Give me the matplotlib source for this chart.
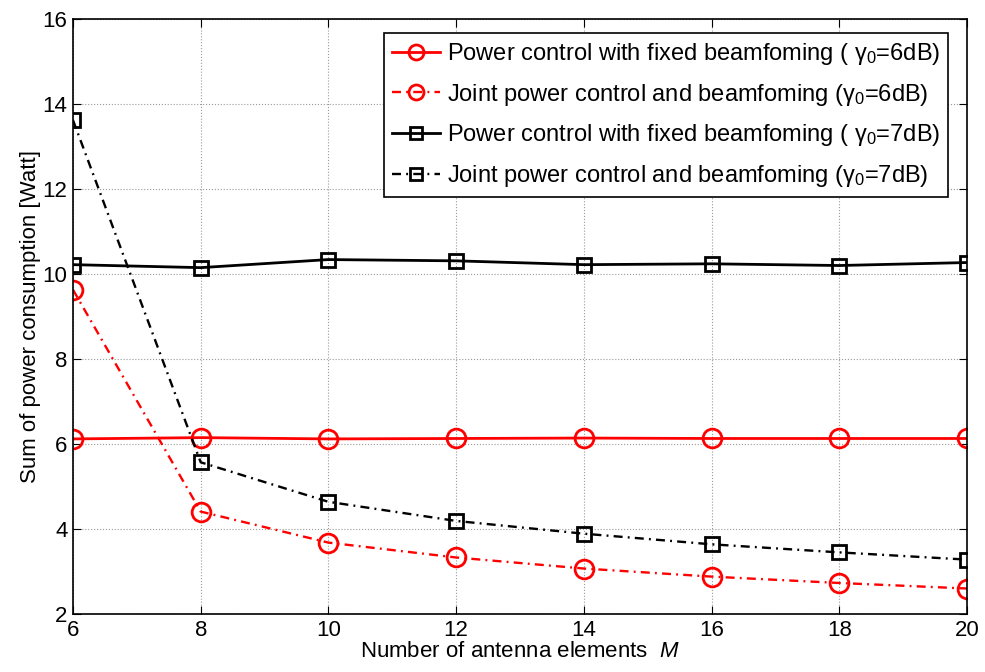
import matplotlib
matplotlib.use("Agg")
import matplotlib.pyplot as plt

plt.rcParams['font.family'] = ['Liberation Sans', 'DejaVu Sans']
plt.rcParams['mathtext.fontset'] = 'custom'
plt.rcParams['mathtext.rm'] = 'Liberation Sans'
plt.rcParams['mathtext.it'] = 'Liberation Sans:italic'

M = [6, 8, 10, 12, 14, 16, 18, 20]
fixed_6dB = [6.12, 6.15, 6.12, 6.13, 6.14, 6.13, 6.13, 6.13]
joint_6dB = [9.63, 4.41, 3.68, 3.33, 3.07, 2.88, 2.73, 2.60]
fixed_7dB = [10.22, 10.15, 10.34, 10.31, 10.22, 10.24, 10.20, 10.27]
joint_7dB = [13.62, 5.57, 4.64, 4.19, 3.89, 3.64, 3.45, 3.28]

labels = [
    r'Power control with fixed beamfoming ( $\mathregular{\gamma_0}$=6dB)',
    r'Joint power control and beamfoming ($\mathregular{\gamma_0}$=6dB)',
    r'Power control with fixed beamfoming ( $\mathregular{\gamma_0}$=7dB)',
    r'Joint power control and beamfoming ($\mathregular{\gamma_0}$=7dB)',
]

fig = plt.figure(figsize=(9.85, 6.72), dpi=100)
ax = fig.add_axes([0.0741, 0.0863, 0.9076, 0.8854])

dd = (3.8, 2.2, 0.8, 2.2)
ax.plot(M, fixed_6dB, '-', color='red', lw=2, marker='o', ms=13.5, mfc='none', mew=2, label=labels[0])
ax.plot(M, joint_6dB, color='red', lw=1.7, dashes=dd, marker='o', ms=13.5, mfc='none', mew=2, label=labels[1])
ax.plot(M, fixed_7dB, '-', color='black', lw=2, marker='s', ms=10.5, mfc='none', mew=2, label=labels[2])
ax.plot(M, joint_7dB, color='black', lw=1.7, dashes=dd, marker='s', ms=10.5, mfc='none', mew=2, label=labels[3])

ax.set_xlim(6, 20)
ax.set_ylim(2, 16)
ax.set_xticks(M)
ax.set_yticks([2, 4, 6, 8, 10, 12, 14, 16])
ax.grid(True, linestyle=':', color='#999999', lw=0.8)
ax.tick_params(direction='in', top=True, right=True, labelsize=16, length=6, pad=4)
for s in ax.spines.values():
    s.set_linewidth(1.2)

ax.set_xlabel(r'Number of antenna elements  $\mathit{M}$', fontsize=16, labelpad=0)
ax.set_ylabel('Sum of power consumption [Watt]', fontsize=16, labelpad=1)

leg = ax.legend(loc='upper right', bbox_to_anchor=(0.979, 0.977), fontsize=17, handlelength=2.0,
                frameon=True, fancybox=False, edgecolor='black', framealpha=1, borderpad=0.35,
                labelspacing=0.62, handletextpad=0.3, borderaxespad=0, markerscale=0.8)
leg.get_frame().set_linewidth(1.2)

fig.savefig('out.png', dpi=100)
